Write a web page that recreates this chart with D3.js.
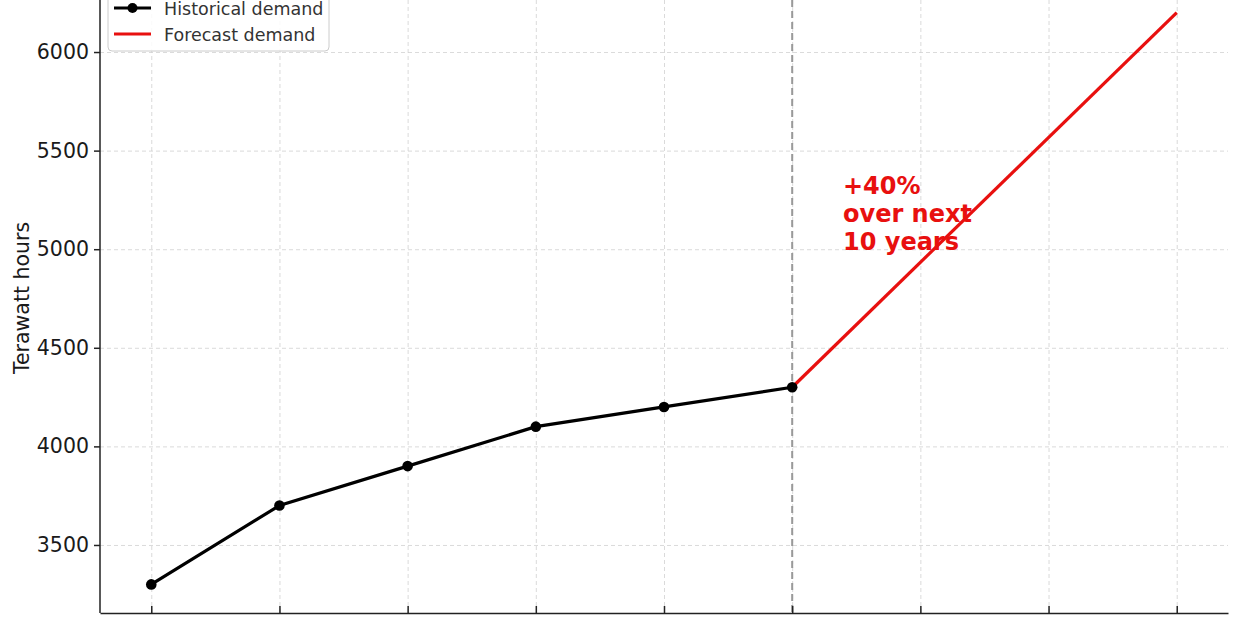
<!DOCTYPE html>
<html lang="en">
<head>
  <meta charset="UTF-8">
  <title>Electricity demand</title>
  <script src="https://d3js.org/d3.v7.min.js"></script>
  <style>
    body { margin: 0; background: #fff; }
    svg { display: block; font-family: "DejaVu Sans", sans-serif; }
    .grid line { stroke: #d0d0d0; stroke-dasharray: 4,3; stroke-width: 0.8; }
    .grid path { display: none; }
    .axis path, .axis line { stroke: #222; stroke-width: 1.5; }
    .axis text { font-family: "DejaVu Sans", sans-serif; font-size: 20.5px; fill: #1a1a1a; }
  </style>
</head>
<body>
  <svg width="1240" height="620"></svg>
  <script>
    // data
    const histYears = [2019, 2020, 2021, 2022, 2023, 2024];
    const histDemand = [3300, 3700, 3900, 4100, 4200, 4300];
    const forecastYears = [2024, 2027];
    const forecastDemand = [4300, 6200];
    const yTicks = [3500, 4000, 4500, 5000, 5500, 6000];
    const xTicks = [2019, 2020, 2021, 2022, 2023, 2024, 2025, 2026, 2027];
    const noteLines = ["+40%", "over next", "10 years"];

    const svg = d3.select("svg");
    const left = 100, right = 1228, bottom = 613;

    const x = d3.scaleLinear().domain([2018.6, 2027.4]).range([left, right]);
    const y = d3.scaleLinear().domain([3155, 6345]).range([bottom, -16]);

    // grid
    svg.append("g").attr("class", "grid")
       .attr("transform", `translate(0,${bottom})`)
       .call(d3.axisBottom(x).tickValues(xTicks).tickSize(-(bottom + 20)).tickFormat(""));
    svg.append("g").attr("class", "grid")
       .attr("transform", `translate(${left},0)`)
       .call(d3.axisLeft(y).tickValues(yTicks).tickSize(-(right - left)).tickFormat(""));

    // split marker
    svg.append("line")
       .attr("x1", x(2024)).attr("x2", x(2024))
       .attr("y1", 0).attr("y2", bottom)
       .attr("stroke", "#999").attr("stroke-width", 2)
       .attr("stroke-dasharray", "7,4");

    // axes
    svg.append("g").attr("class", "axis")
       .attr("transform", `translate(0,${bottom})`)
       .call(d3.axisTop(x).tickValues(xTicks).tickSize(7).tickSizeOuter(0).tickFormat(""));
    svg.append("g").attr("class", "axis")
       .attr("transform", `translate(${left},0)`)
       .call(d3.axisLeft(y).tickValues(yTicks).tickSize(6).tickSizeOuter(0).tickPadding(5).tickFormat(d3.format("d")))
       .call(g => g.select(".domain").attr("d", `M0,0V${bottom}`));

    svg.append("text")
       .attr("transform", `translate(29,298) rotate(-90)`)
       .attr("text-anchor", "middle")
       .style("font-size", "20.5px").style("fill", "#1a1a1a")
       .text("Terawatt hours");

    const line = d3.line().x(d => x(d[0])).y(d => y(d[1]));

    svg.append("path")
       .datum(forecastYears.map((yr, i) => [yr, forecastDemand[i]]))
       .attr("d", line).attr("fill", "none")
       .attr("stroke", "#e8100f").attr("stroke-width", 3.2);

    const hist = histYears.map((yr, i) => [yr, histDemand[i]]);
    svg.append("path")
       .datum(hist)
       .attr("d", line).attr("fill", "none")
       .attr("stroke", "#000").attr("stroke-width", 3.2);
    svg.selectAll(".pt").data(hist).enter().append("circle")
       .attr("class", "pt")
       .attr("cx", d => x(d[0])).attr("cy", d => y(d[1]))
       .attr("r", 5.3).attr("fill", "#000");

    // annotation
    svg.append("text")
       .attr("x", 843).attr("y", 194)
       .style("font-size", "24px").style("font-weight", "bold").style("fill", "#e8100f")
       .selectAll("tspan").data(noteLines).enter().append("tspan")
       .attr("x", 843).attr("dy", (d, i) => i === 0 ? 0 : 28)
       .text(d => d);

    // legend
    const lg = svg.append("g");
    lg.append("rect")
       .attr("x", 108).attr("y", -20).attr("width", 221).attr("height", 71)
       .attr("rx", 4).attr("fill", "#fff").attr("fill-opacity", 0.85)
       .attr("stroke", "#ccc");
    const items = [
      { label: "Historical demand", color: "#000", dot: true },
      { label: "Forecast demand", color: "#e8100f", dot: false }
    ];
    items.forEach((it, i) => {
      const yy = 8 + i * 26;
      lg.append("line").attr("x1", 114).attr("x2", 151).attr("y1", yy).attr("y2", yy)
        .attr("stroke", it.color).attr("stroke-width", 3);
      if (it.dot) lg.append("circle").attr("cx", 132.5).attr("cy", yy).attr("r", 5).attr("fill", it.color);
      lg.append("text").attr("x", 164).attr("y", yy + 6.5)
        .style("font-size", "17.5px").style("fill", "#333").text(it.label);
    });
  </script>
</body>
</html>
